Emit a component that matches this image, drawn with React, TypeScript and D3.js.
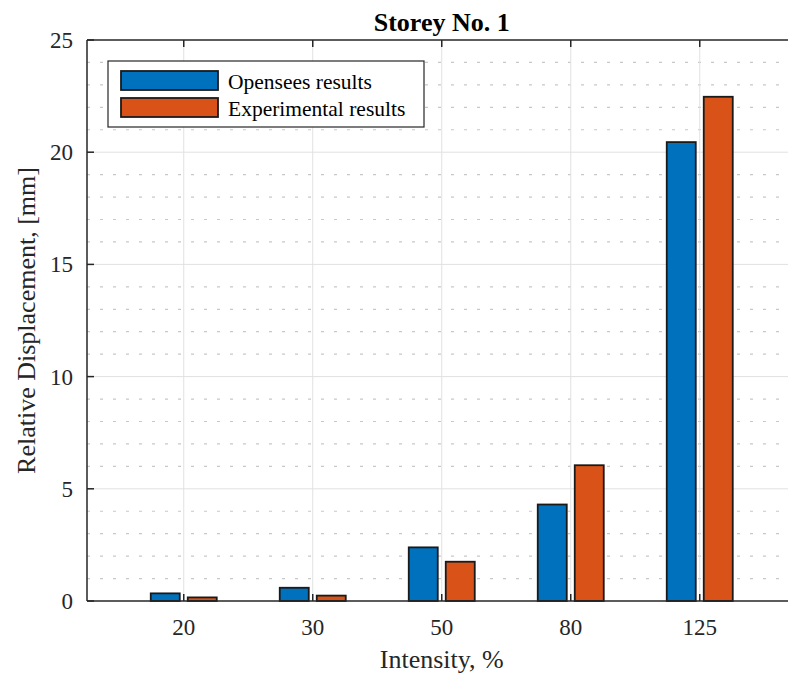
import React, { useEffect, useRef } from 'react';
import * as d3 from 'd3';

const categories = ['20', '30', '50', '80', '125'];
const openseesValues = [0.34, 0.59, 2.39, 4.3, 20.45];
const experimentalValues = [0.16, 0.24, 1.75, 6.05, 22.47];
const yTicks = [0, 5, 10, 15, 20, 25];
const seriesNames = ['Opensees results', 'Experimental results'];
const seriesColors = ['#0072BD', '#D95319'];

const W = 788;
const H = 676;
const FONT = '"Liberation Serif", "Times New Roman", serif';

const App = () => {
  const svgRef = useRef<SVGSVGElement | null>(null);

  useEffect(() => {
    const svg = d3.select(svgRef.current);
    svg.selectAll('*').remove();

    const left = 87;
    const top = 40;
    const bottom = 601;
    const right = 796.5;

    const x = d3.scaleLinear().domain([0.25, 5.75]).range([left, right]);
    const y = d3.scaleLinear().domain([0, 25]).range([bottom, top]);

    // minor grid (dotted)
    const minor = d3.range(0, 26).filter(v => v % 5 !== 0);
    svg.append('g')
      .selectAll('line')
      .data(minor)
      .enter()
      .append('line')
      .attr('x1', left)
      .attr('x2', right)
      .attr('y1', d => y(d))
      .attr('y2', d => y(d))
      .attr('stroke', '#c8c8c8')
      .attr('stroke-width', 1.2)
      .attr('stroke-dasharray', '3,10');

    // major grid
    svg.append('g')
      .selectAll('line')
      .data(yTicks.slice(1, -1))
      .enter()
      .append('line')
      .attr('x1', left)
      .attr('x2', right)
      .attr('y1', d => y(d))
      .attr('y2', d => y(d))
      .attr('stroke', '#e1e1e1')
      .attr('stroke-width', 1);

    svg.append('g')
      .selectAll('line')
      .data(categories)
      .enter()
      .append('line')
      .attr('x1', (d, i) => x(i + 1))
      .attr('x2', (d, i) => x(i + 1))
      .attr('y1', top)
      .attr('y2', bottom)
      .attr('stroke', '#e1e1e1')
      .attr('stroke-width', 1);

    // bars
    const barW = 29;
    const offset = 18.5;
    const series = [openseesValues, experimentalValues];
    series.forEach((vals, s) => {
      svg.append('g')
        .selectAll('rect')
        .data(vals)
        .enter()
        .append('rect')
        .attr('x', (d, i) => x(i + 1) + (s === 0 ? -offset : offset) - barW / 2)
        .attr('y', d => y(d))
        .attr('width', barW)
        .attr('height', d => bottom - y(d))
        .attr('fill', seriesColors[s])
        .attr('stroke', '#1a1a1a')
        .attr('stroke-width', 1.8);
    });

    // axes lines
    const axisColor = '#262626';
    svg.append('line')
      .attr('x1', left).attr('x2', W).attr('y1', top).attr('y2', top)
      .attr('stroke', axisColor).attr('stroke-width', 1.5);
    svg.append('line')
      .attr('x1', left).attr('x2', W).attr('y1', bottom).attr('y2', bottom)
      .attr('stroke', axisColor).attr('stroke-width', 1.5);
    svg.append('line')
      .attr('x1', left).attr('x2', left).attr('y1', top).attr('y2', bottom)
      .attr('stroke', axisColor).attr('stroke-width', 1.5);

    // ticks
    const tickLen = 7;
    svg.append('g')
      .selectAll('line')
      .data(yTicks)
      .enter()
      .append('line')
      .attr('x1', left)
      .attr('x2', left + tickLen)
      .attr('y1', d => y(d))
      .attr('y2', d => y(d))
      .attr('stroke', axisColor)
      .attr('stroke-width', 1.5);
    categories.forEach((c, i) => {
      svg.append('line')
        .attr('x1', x(i + 1)).attr('x2', x(i + 1))
        .attr('y1', bottom).attr('y2', bottom - tickLen)
        .attr('stroke', axisColor).attr('stroke-width', 1.5);
      svg.append('line')
        .attr('x1', x(i + 1)).attr('x2', x(i + 1))
        .attr('y1', top).attr('y2', top + tickLen)
        .attr('stroke', axisColor).attr('stroke-width', 1.5);
    });

    // tick labels
    svg.append('g')
      .selectAll('text')
      .data(yTicks)
      .enter()
      .append('text')
      .attr('x', left - 14)
      .attr('y', d => y(d))
      .attr('dy', '0.35em')
      .attr('text-anchor', 'end')
      .attr('font-family', FONT)
      .attr('font-size', 23)
      .attr('fill', axisColor)
      .text(d => d);

    svg.append('g')
      .selectAll('text')
      .data(categories)
      .enter()
      .append('text')
      .attr('x', (d, i) => x(i + 1))
      .attr('y', 635)
      .attr('text-anchor', 'middle')
      .attr('font-family', FONT)
      .attr('font-size', 23)
      .attr('fill', axisColor)
      .text(d => d);

    // axis labels and title
    const cx = (left + right) / 2;
    svg.append('text')
      .attr('x', cx).attr('y', 668)
      .attr('text-anchor', 'middle')
      .attr('font-family', FONT).attr('font-size', 26)
      .attr('fill', axisColor)
      .text('Intensity, %');

    svg.append('text')
      .attr('transform', `translate(35,${(top + bottom) / 2}) rotate(-90)`)
      .attr('text-anchor', 'middle')
      .attr('font-family', FONT).attr('font-size', 26)
      .attr('fill', axisColor)
      .text('Relative Displacement, [mm]');

    svg.append('text')
      .attr('x', cx).attr('y', 31)
      .attr('text-anchor', 'middle')
      .attr('font-family', FONT).attr('font-size', 26)
      .attr('font-weight', 'bold')
      .attr('fill', '#000')
      .text('Storey No. 1');

    // legend
    const lg = svg.append('g').attr('transform', 'translate(108,61)');
    lg.append('rect')
      .attr('width', 316).attr('height', 66)
      .attr('fill', '#fff')
      .attr('stroke', '#262626').attr('stroke-width', 1.2);
    seriesNames.forEach((name, i) => {
      lg.append('rect')
        .attr('x', 13).attr('y', 10 + i * 27)
        .attr('width', 97).attr('height', 19)
        .attr('fill', seriesColors[i])
        .attr('stroke', '#1a1a1a').attr('stroke-width', 1.8);
      lg.append('text')
        .attr('x', 120).attr('y', 20 + i * 27)
        .attr('dy', '0.35em')
        .attr('font-family', FONT).attr('font-size', 21.5)
        .attr('fill', '#000')
        .text(name);
    });
  }, []);

  return (
    <div style={{ position: 'absolute', left: 0, top: 0, width: W, height: H, background: '#fff' }}>
      <svg ref={svgRef} width={W} height={H} style={{ display: 'block' }}></svg>
    </div>
  );
};

export default App;
